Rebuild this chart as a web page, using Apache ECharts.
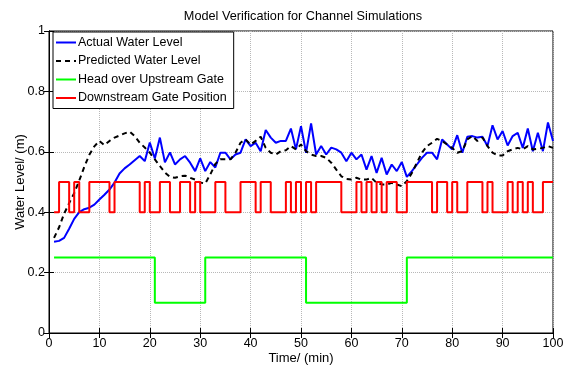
<!DOCTYPE html>
<html>
<head>
<meta charset="utf-8">
<script src="https://cdn.jsdelivr.net/npm/echarts@6/dist/echarts.min.js"></script>
<style>
html, body { margin: 0; padding: 0; background: #fff; }
#chart { width: 568px; height: 369px; }
</style>
</head>
<body>
<div id="chart"></div>
<script>
// 实际水位
var actualLevel = [
    0.302, 0.305, 0.315, 0.345, 0.378, 0.400, 0.410, 0.415, 0.425, 0.442,
    0.458, 0.475, 0.498, 0.528, 0.545, 0.558, 0.572, 0.586, 0.569, 0.631,
    0.578, 0.647, 0.565, 0.598, 0.558, 0.575, 0.586, 0.564, 0.536, 0.578,
    0.536, 0.566, 0.548, 0.597, 0.597, 0.575, 0.591, 0.597, 0.641, 0.619,
    0.630, 0.602, 0.672, 0.647, 0.630, 0.636, 0.636, 0.677, 0.608, 0.685,
    0.597, 0.694, 0.591, 0.619, 0.591, 0.614, 0.608, 0.597, 0.569, 0.597,
    0.575, 0.591, 0.541, 0.586, 0.530, 0.580, 0.525, 0.558, 0.536, 0.566,
    0.517, 0.536, 0.558, 0.580, 0.597, 0.597, 0.575, 0.641, 0.624, 0.608,
    0.655, 0.597, 0.650, 0.652, 0.647, 0.650, 0.619, 0.688, 0.641, 0.669,
    0.621, 0.652, 0.663, 0.613, 0.677, 0.602, 0.663, 0.602, 0.697, 0.636
];
// 预测水位
var predictedLevel = [
    0.315, 0.350, 0.395, 0.430, 0.463, 0.505, 0.550, 0.590, 0.618, 0.636,
    0.622, 0.636, 0.647, 0.654, 0.661, 0.667, 0.652, 0.630, 0.614, 0.597,
    0.575, 0.553, 0.531, 0.517, 0.514, 0.519, 0.521, 0.514, 0.508, 0.498,
    0.495, 0.525, 0.560, 0.575, 0.575, 0.575, 0.597, 0.630, 0.641, 0.624,
    0.636, 0.650, 0.613, 0.597, 0.591, 0.602, 0.605, 0.619, 0.608, 0.624,
    0.602, 0.591, 0.586, 0.586, 0.580, 0.564, 0.541, 0.519, 0.510, 0.508,
    0.514, 0.508, 0.508, 0.514, 0.497, 0.492, 0.492, 0.497, 0.492, 0.486,
    0.503, 0.530, 0.564, 0.597, 0.619, 0.630, 0.643, 0.636, 0.624, 0.613,
    0.597, 0.602, 0.641, 0.652, 0.636, 0.647, 0.619, 0.597, 0.588, 0.588,
    0.602, 0.608, 0.613, 0.608, 0.619, 0.608, 0.610, 0.613, 0.619, 0.613
];
// 上游闸门水头
var upstreamHead = [
    0.25, 0.25, 0.25, 0.25, 0.25, 0.25, 0.25, 0.25, 0.25, 0.25,
    0.25, 0.25, 0.25, 0.25, 0.25, 0.25, 0.25, 0.25, 0.25, 0.25,
    0.10, 0.10, 0.10, 0.10, 0.10, 0.10, 0.10, 0.10, 0.10, 0.10,
    0.25, 0.25, 0.25, 0.25, 0.25, 0.25, 0.25, 0.25, 0.25, 0.25,
    0.25, 0.25, 0.25, 0.25, 0.25, 0.25, 0.25, 0.25, 0.25, 0.25,
    0.10, 0.10, 0.10, 0.10, 0.10, 0.10, 0.10, 0.10, 0.10, 0.10,
    0.10, 0.10, 0.10, 0.10, 0.10, 0.10, 0.10, 0.10, 0.10, 0.10,
    0.25, 0.25, 0.25, 0.25, 0.25, 0.25, 0.25, 0.25, 0.25, 0.25,
    0.25, 0.25, 0.25, 0.25, 0.25, 0.25, 0.25, 0.25, 0.25, 0.25,
    0.25, 0.25, 0.25, 0.25, 0.25, 0.25, 0.25, 0.25, 0.25, 0.25
];
// 下游闸门开度
var downstreamGate = [
    0.4, 0.5, 0.5, 0.4, 0.5, 0.4, 0.4, 0.5, 0.5, 0.5,
    0.5, 0.4, 0.5, 0.5, 0.5, 0.5, 0.5, 0.4, 0.5, 0.4,
    0.4, 0.5, 0.5, 0.4, 0.4, 0.5, 0.5, 0.4, 0.5, 0.4,
    0.4, 0.4, 0.5, 0.5, 0.4, 0.4, 0.4, 0.5, 0.5, 0.5,
    0.4, 0.5, 0.5, 0.4, 0.4, 0.4, 0.5, 0.4, 0.5, 0.4,
    0.5, 0.4, 0.5, 0.5, 0.5, 0.5, 0.5, 0.4, 0.4, 0.4,
    0.5, 0.4, 0.5, 0.4, 0.5, 0.4, 0.5, 0.5, 0.4, 0.4,
    0.5, 0.5, 0.5, 0.5, 0.5, 0.4, 0.5, 0.5, 0.4, 0.5,
    0.4, 0.4, 0.5, 0.5, 0.5, 0.4, 0.5, 0.4, 0.4, 0.4,
    0.5, 0.4, 0.5, 0.4, 0.5, 0.4, 0.4, 0.5, 0.5, 0.5
];
var seriesNames = ['Actual Water Level', 'Predicted Water Level', 'Head over Upstream Gate', 'Downstream Gate Position'];

var FONT = '"Liberation Sans", Arial, Helvetica, sans-serif';

// 时间 (min) 从 1 开始
function toPairs(arr) {
    var out = [];
    for (var i = 0; i < arr.length; i++) {
        out.push([i + 1, arr[i]]);
    }
    return out;
}

function tickAxis(extra) {
    var base = {
        type: 'value',
        axisLine: { show: true, lineStyle: { color: '#000', width: 1 } },
        axisTick: { show: true, inside: true, length: 5, lineStyle: { color: '#000' } },
        axisLabel: { show: false },
        splitLine: { show: false }
    };
    for (var k in extra) base[k] = extra[k];
    return base;
}

var chart = echarts.init(document.getElementById('chart'));
chart.setOption({
    animation: false,
    backgroundColor: '#fff',
    textStyle: { fontFamily: FONT },
    title: {
        text: 'Model Verification for Channel Simulations',
        left: 298,
        top: 5,
        textAlign: 'center',
        textStyle: { fontFamily: FONT, fontSize: 12.7, fontWeight: 'normal', color: '#000' }
    },
    grid: {
        left: 49, right: 15, top: 31, bottom: 36,
        outerBoundsMode: 'none',
        show: true, borderColor: '#000', borderWidth: 1
    },
    legend: {
        data: seriesNames,
        orient: 'vertical',
        left: 53,
        top: 32,
        itemWidth: 20,
        itemHeight: 14,
        itemGap: 5.5,
        padding: [4, 7, 4, 2],
        backgroundColor: '#fff',
        borderColor: '#000',
        borderWidth: 1,
        borderRadius: 0,
        itemStyle: { color: 'rgba(0,0,0,0)', borderWidth: 0 },
        textStyle: { fontFamily: FONT, fontSize: 12.5, color: '#000', padding: [0, 0, 0, -3] }
    },
    xAxis: [
        tickAxis({
            min: 0, max: 100, interval: 10,
            name: 'Time/ (min)',
            nameLocation: 'middle',
            nameGap: 19,
            nameMoveOverlap: false,
            nameTextStyle: { fontFamily: FONT, fontSize: 13, color: '#000' },
            axisLabel: { show: true, margin: 4, color: '#000', fontFamily: FONT, fontSize: 12.5 },
            splitLine: { show: true, lineStyle: { color: '#b8b8b8', type: 'dotted', width: 1 } }
        }),
        tickAxis({ min: 0, max: 100, interval: 10, position: 'top' })
    ],
    yAxis: [
        tickAxis({
            min: 0, max: 1, interval: 0.2,
            name: 'Water Level/ (m)',
            nameLocation: 'middle',
            nameGap: 22,
            nameMoveOverlap: false,
            nameTextStyle: { fontFamily: FONT, fontSize: 13, color: '#000' },
            axisLabel: { show: true, margin: 4, color: '#000', fontFamily: FONT, fontSize: 12.5 },
            splitLine: { show: true, lineStyle: { color: '#b8b8b8', type: 'dotted', width: 1 } }
        }),
        tickAxis({ min: 0, max: 1, interval: 0.2, position: 'right' })
    ],
    series: [
        {
            name: seriesNames[0], type: 'line', symbol: 'none',
            data: toPairs(actualLevel),
            lineStyle: { color: '#0000ff', width: 2 },
            itemStyle: { color: '#0000ff' }
        },
        {
            name: seriesNames[1], type: 'line', symbol: 'none',
            data: toPairs(predictedLevel),
            lineStyle: { color: '#000', width: 2, type: [5, 4] },
            itemStyle: { color: '#000' }
        },
        {
            name: seriesNames[2], type: 'line', symbol: 'none', step: 'end',
            data: toPairs(upstreamHead),
            lineStyle: { color: '#00ff00', width: 2 },
            itemStyle: { color: '#00ff00' }
        },
        {
            name: seriesNames[3], type: 'line', symbol: 'none', step: 'end',
            data: toPairs(downstreamGate),
            lineStyle: { color: '#ff0000', width: 2 },
            itemStyle: { color: '#ff0000' }
        }
    ]
});
</script>
</body>
</html>
